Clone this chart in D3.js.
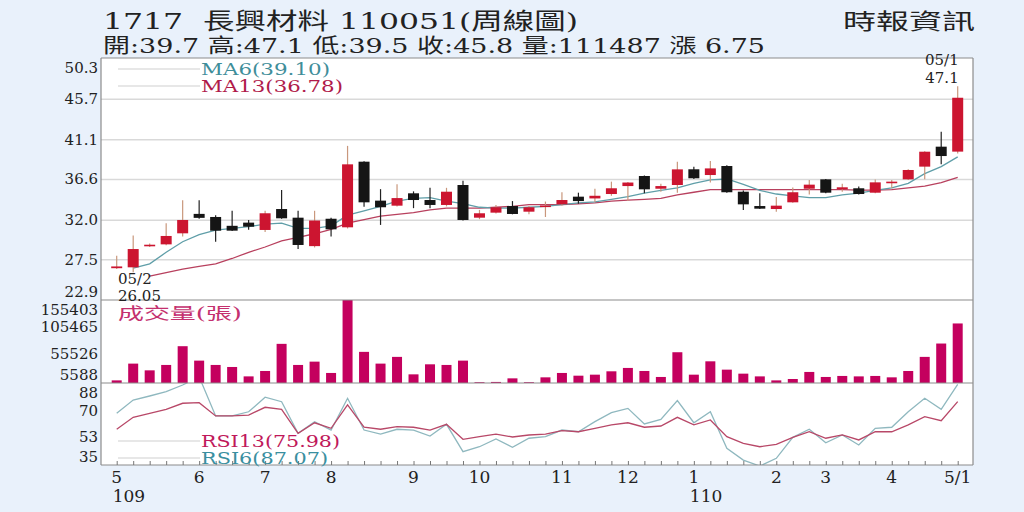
<!DOCTYPE html>
<html>
<head>
<meta charset="utf-8">
<script src="https://cdn.jsdelivr.net/npm/d3@7"></script>
<style>
  body { margin: 0; background: #e9f1fb; }
  svg { display: block; }
  text { white-space: pre; }
</style>
</head>
<body>
<div id="chart"></div>
<script>
/**
 * 1717 長興材料 weekly candles with MA, volume and RSI panels.
 */

// Weekly OHLC, 109/05 to 110/05
const opens  = [26.5, 26.6, 29.0, 29.2, 30.45, 32.65, 32.3, 31.3, 31.66, 30.83, 33.2, 32.22, 29.0,
                32.1, 31.13, 38.56, 34.15, 33.58, 34.98, 34.22, 33.66, 35.92, 32.22, 32.79, 33.54, 32.9,
                33.5, 33.73, 34.6, 34.4, 34.9, 35.8, 36.94, 35.5, 35.92, 37.7, 37.05, 38.07, 35.16,
                33.54, 33.2, 33.96, 35.5, 36.56, 35.43, 35.55, 35.05, 36.2, 36.56, 38.0, 40.26, 39.7];
const highs  = [27.9, 30.2, 29.3, 31.6, 34.2, 34.2, 32.5, 33.0, 31.96, 33.0, 35.35, 33.0, 33.0,
                32.2, 40.35, 38.6, 35.45, 36.0, 35.2, 35.6, 35.6, 36.4, 33.1, 33.66, 34.1, 33.55,
                34.05, 35.1, 35.05, 35.5, 36.3, 36.25, 37.0, 36.05, 38.56, 38.0, 38.65, 38.15, 35.3,
                35.0, 34.55, 35.65, 36.5, 36.6, 36.05, 35.75, 36.55, 36.5, 37.7, 39.75, 41.96, 47.1];
const lows   = [26.4, 26.05, 28.9, 29.1, 30.1, 32.1, 29.5, 30.7, 30.85, 30.6, 32.1, 28.67, 28.85,
                30.1, 31.0, 33.45, 31.4, 33.5, 33.3, 33.3, 33.5, 31.9, 32.05, 32.7, 32.6, 32.6,
                32.3, 33.6, 33.8, 34.0, 34.7, 34.1, 35.0, 35.15, 35.05, 36.6, 36.2, 35.05, 33.1,
                33.2, 32.9, 33.9, 34.85, 35.0, 35.15, 34.85, 35.0, 35.55, 36.5, 36.56, 38.26, 39.5];
const closes = [26.7, 28.67, 29.16, 30.15, 31.96, 32.2, 30.75, 30.75, 31.2, 32.72, 32.15, 29.13, 31.9,
                30.9, 38.26, 33.96, 33.4, 34.44, 34.22, 33.66, 35.16, 31.96, 32.72, 33.4, 32.64, 33.4,
                33.6, 34.22, 34.1, 34.7, 35.55, 36.2, 35.43, 35.8, 37.69, 36.68, 37.8, 35.1, 33.73,
                33.24, 33.58, 35.1, 35.96, 35.05, 35.66, 34.9, 36.22, 36.3, 37.62, 39.69, 39.2, 45.8];

// Moving averages
const ma6  = [null, 26.5, 27.0, 28.3, 29.5, 30.3, 30.8, 31.0, 31.2, 31.5, 31.6, 31.0, 31.0,
              31.3, 32.5, 33.0, 33.5, 34.1, 34.4, 34.5, 34.1, 33.8, 33.4, 33.3, 33.3, 33.4,
              33.5, 33.7, 33.9, 34.0, 34.3, 34.6, 35.0, 35.3, 35.6, 36.1, 36.5, 36.6, 36.0,
              35.3, 34.9, 34.7, 34.5, 34.5, 34.8, 35.0, 35.3, 35.6, 36.1, 37.2, 38.0, 39.1];
const ma13 = [null, null, 25.6, 26.0, 26.4, 26.7, 27.0, 27.6, 28.3, 28.9, 29.6, 30.0, 30.4,
              30.9, 31.6, 32.0, 32.4, 32.6, 32.8, 33.1, 33.3, 33.3, 33.3, 33.4, 33.5, 33.7,
              33.7, 33.7, 33.8, 33.9, 34.1, 34.2, 34.3, 34.4, 34.8, 35.1, 35.4, 35.4, 35.4,
              35.4, 35.4, 35.4, 35.4, 35.4, 35.4, 35.35, 35.35, 35.4, 35.6, 35.8, 36.2, 36.78];

// Volume (張)
const volume = [4900, 36300, 23700, 33800, 68900, 41900, 33800, 30000, 12400, 22500, 73300, 33800, 40000,
                18800, 155403, 58300, 36300, 48900, 16200, 35000, 33800, 41900, 1500, 2000, 8700, 1500,
                10600, 18800, 13700, 15600, 21900, 28200, 22500, 11300, 57600, 15600, 40600, 25000, 17500,
                12400, 4900, 7500, 20700, 11300, 13200, 12400, 13200, 10600, 22500, 48900, 73900, 111487];

// RSI
const rsi6  = [68.4, 77.0, 79.6, 82.4, 86.7, 92.0, 66.7, 66.7, 69.4, 78.8, 75.9, 55.5, 63.0,
               57.6, 78.1, 57.6, 55.0, 58.1, 57.6, 53.7, 61.3, 43.6, 46.8, 51.8, 46.5, 52.3,
               53.3, 57.6, 56.5, 63.0, 68.8, 71.6, 61.5, 64.5, 76.6, 62.3, 69.4, 45.8, 38.2,
               34.3, 39.3, 52.9, 58.1, 49.4, 54.4, 47.9, 58.7, 59.4, 69.4, 78.1, 71.0, 87.07];
const rsi13 = [58.1, 65.8, 68.4, 71.0, 74.9, 75.3, 66.7, 66.7, 67.3, 72.3, 71.0, 55.5, 62.3,
               58.7, 73.8, 59.4, 58.1, 59.8, 59.4, 57.6, 61.3, 51.6, 53.3, 55.0, 53.1, 54.4,
               55.0, 57.2, 56.5, 58.7, 60.9, 62.3, 59.4, 60.2, 65.8, 60.9, 64.1, 53.3, 49.0,
               46.8, 48.4, 52.9, 56.5, 52.3, 54.4, 51.2, 56.5, 56.5, 60.9, 66.2, 63.6, 75.98];

// Axis ticks and labels
const priceTicks = [22.9, 27.5, 32.0, 36.6, 41.1, 45.7, 50.3];
const volTicks = [5588, 55526, 105465, 155403];
const rsiTicks = [35, 53, 70, 88];
const monthIdx = [0, 5, 9, 13, 18, 22, 27, 31, 35, 40, 43, 47, 51];
const monthLabels = ["5", "6", "7", "8", "9", "10", "11", "12", "1", "2", "3", "4", "5/1"];
const yearIdx = [0, 35];
const yearLabels = ["109", "110"];

const W = 1024, H = 512;
const left = 101, right = 973;
const pTop = 58, pBot = 300, vBot = 383, rBot = 465;
const numFont = "'DejaVu Serif', 'Liberation Serif', serif";
const cjkFont = "'DejaVu Serif', 'Noto Sans CJK TC', serif";

const svg = d3.select("#chart")
    .append("svg")
    .attr("width", W)
    .attr("height", H);

svg.append("rect").attr("width", W).attr("height", H).attr("fill", "#e9f1fb");
svg.append("rect")
    .attr("x", left).attr("y", pTop)
    .attr("width", right - left).attr("height", rBot - pTop)
    .attr("fill", "#fff");

// Scales
const x = d3.scalePoint()
    .domain(d3.range(closes.length))
    .range([116.7, 957.7]);
const yP = d3.scaleLinear().domain([22.9, 50.3]).range([pBot, pTop]);
const yV = d3.scaleLinear().domain([0, 155403]).range([vBot, pBot]);
const yR = d3.scaleLinear().domain([35, 88]).range([rBot, vBot]);

// Clip paths per panel
const defs = svg.append("defs");
[["clipP", pTop, pBot], ["clipR", vBot, rBot]].forEach(([id, t, b]) => {
    defs.append("clipPath").attr("id", id)
        .append("rect").attr("x", left).attr("y", t).attr("width", right - left).attr("height", b - t);
});

// Price grid
svg.append("g")
    .attr("transform", `translate(${left},0)`)
    .call(d3.axisLeft(yP).tickValues(priceTicks.slice(1, -1)).tickSize(-(right - left)).tickFormat(""))
    .call(g => g.select(".domain").remove())
    .call(g => g.selectAll("line").attr("stroke", "#d9d9d9").attr("stroke-width", 1.5));

// Y labels, kept inside their panel like the original
function yLabels(ticks, scale, top, bot, fmt) {
    svg.append("g").selectAll("text")
        .data(ticks)
        .join("text")
        .attr("x", 98)
        .attr("y", d => Math.max(top + 10, Math.min(bot - 8, scale(d))))
        .attr("dy", "0.35em")
        .attr("text-anchor", "end")
        .attr("font-family", numFont)
        .attr("font-size", 15)
        .attr("fill", "#222")
        .text(fmt);
}
yLabels(priceTicks, yP, pTop, pBot, d => d.toFixed(1));
yLabels(volTicks, yV, pBot, vBot, d => d);
yLabels(rsiTicks, yR, vBot, rBot, d => d);

// MA lines
const line = (scale) => d3.line()
    .defined(d => d != null)
    .x((d, i) => x(i))
    .y(d => scale(d));

const pricePane = svg.append("g").attr("clip-path", "url(#clipP)");
pricePane.append("path").datum(ma13)
    .attr("fill", "none").attr("stroke", "#b8405e").attr("stroke-width", 1.3)
    .attr("d", line(yP));
pricePane.append("path").datum(ma6)
    .attr("fill", "none").attr("stroke", "#5f9ea8").attr("stroke-width", 1.3)
    .attr("d", line(yP));

// Candles
const candles = closes.map((c, i) => ({ i, o: opens[i], h: highs[i], l: lows[i], c }));
const up = d => d.c >= d.o;

pricePane.selectAll(".wick")
    .data(candles)
    .join("line")
    .attr("x1", d => x(d.i)).attr("x2", d => x(d.i))
    .attr("y1", d => yP(d.h)).attr("y2", d => yP(d.l))
    .attr("stroke", d => up(d) ? "#c9977c" : "#222")
    .attr("stroke-width", 1.2);

pricePane.selectAll(".body")
    .data(candles)
    .join("rect")
    .attr("x", d => x(d.i) - 5.5)
    .attr("width", 11)
    .attr("y", d => yP(Math.max(d.o, d.c)))
    .attr("height", d => Math.max(1.6, Math.abs(yP(d.o) - yP(d.c))))
    .attr("fill", d => up(d) ? "#cc1530" : "#151515");

// Volume bars
svg.append("g").selectAll("rect")
    .data(volume)
    .join("rect")
    .attr("x", (d, i) => x(i) - 5)
    .attr("width", 10)
    .attr("y", d => yV(d))
    .attr("height", d => vBot - yV(d))
    .attr("fill", "#c4005e");

// RSI lines
const rsiPane = svg.append("g").attr("clip-path", "url(#clipR)");
rsiPane.append("path").datum(rsi6)
    .attr("fill", "none").attr("stroke", "#8fb8bf").attr("stroke-width", 1.3)
    .attr("d", line(yR));
rsiPane.append("path").datum(rsi13)
    .attr("fill", "none").attr("stroke", "#b84868").attr("stroke-width", 1.3)
    .attr("d", line(yR));

// Panel frame
const frame = svg.append("g").attr("stroke", "#8c8c8c").attr("stroke-width", 1.2);
[pTop, pBot, vBot, rBot].forEach(y => {
    frame.append("line").attr("x1", left).attr("x2", right).attr("y1", y).attr("y2", y);
});
frame.append("line").attr("x1", left).attr("x2", left).attr("y1", pTop).attr("y2", rBot);
frame.append("line").attr("x1", right).attr("x2", right).attr("y1", pTop).attr("y2", rBot);

// Weekly ticks
svg.append("g")
    .attr("transform", `translate(0,${rBot})`)
    .call(d3.axisBottom(x).tickSizeInner(-4).tickSizeOuter(0).tickFormat(""))
    .call(g => g.select(".domain").remove())
    .call(g => g.selectAll("line").attr("stroke", "#777"));

// Month / year labels
svg.append("g").selectAll("text")
    .data(monthIdx)
    .join("text")
    .attr("x", d => x(d))
    .attr("y", 483)
    .attr("text-anchor", "middle")
    .attr("font-family", numFont)
    .attr("font-size", 17)
    .attr("fill", "#222")
    .text((d, i) => monthLabels[i]);

svg.append("g").selectAll("text")
    .data(yearIdx)
    .join("text")
    .attr("x", d => x(d) - 4)
    .attr("y", 502)
    .attr("font-family", numFont)
    .attr("font-size", 17)
    .attr("fill", "#222")
    .text((d, i) => yearLabels[i]);

// Legends
function legend(y, label, color, width) {
    svg.append("line")
        .attr("x1", 118).attr("x2", 200).attr("y1", y).attr("y2", y)
        .attr("stroke", "#cfcfcf").attr("stroke-width", 1.2);
    svg.append("text")
        .attr("x", 201).attr("y", y).attr("dy", "0.35em")
        .attr("font-family", numFont).attr("font-size", 16)
        .attr("fill", color)
        .attr("textLength", width).attr("lengthAdjust", "spacingAndGlyphs")
        .text(label);
}
legend(69, `MA6(${ma6[ma6.length - 1].toFixed(2)})`, "#3f8e9a", 129);
legend(86, `MA13(${ma13[ma13.length - 1].toFixed(2)})`, "#b01a4a", 142);
legend(441, `RSI13(${rsi13[rsi13.length - 1].toFixed(2)})`, "#c0185a", 139);
legend(458, `RSI6(${rsi6[rsi6.length - 1].toFixed(2)})`, "#3a8fa0", 127);

svg.append("text")
    .attr("x", 118).attr("y", 313).attr("dy", "0.35em")
    .attr("font-family", cjkFont).attr("font-size", 16)
    .attr("fill", "#c4306e")
    .attr("textLength", 124).attr("lengthAdjust", "spacingAndGlyphs")
    .text("成交量(張)");

// High / low notes
const hiIdx = d3.maxIndex(highs), loIdx = d3.minIndex(lows);
const note = (tx, ty, anchor, s) => svg.append("text")
    .attr("x", tx).attr("y", ty).attr("text-anchor", anchor)
    .attr("font-family", numFont).attr("font-size", 15).attr("fill", "#222")
    .text(s);
note(x(hiIdx) + 1, 65, "end", "05/1");
note(x(hiIdx) + 1, 83, "end", highs[hiIdx].toFixed(1));
note(118, 284, "start", "05/2");
note(118, 301, "start", lows[loIdx].toFixed(2));

// Header
const header = (tx, ty, size, len, s) => svg.append("text")
    .attr("x", tx).attr("y", ty)
    .attr("font-family", cjkFont).attr("font-size", size).attr("fill", "#222")
    .attr("textLength", len).attr("lengthAdjust", "spacingAndGlyphs")
    .text(s);
header(103, 29, 23, 475, "1717  長興材料 110051(周線圖)");
header(103, 53, 20, 662, "開:39.7 高:47.1 低:39.5 收:45.8 量:111487 漲 6.75");
header(843, 29, 22, 132, "時報資訊");
</script>
</body>
</html>
